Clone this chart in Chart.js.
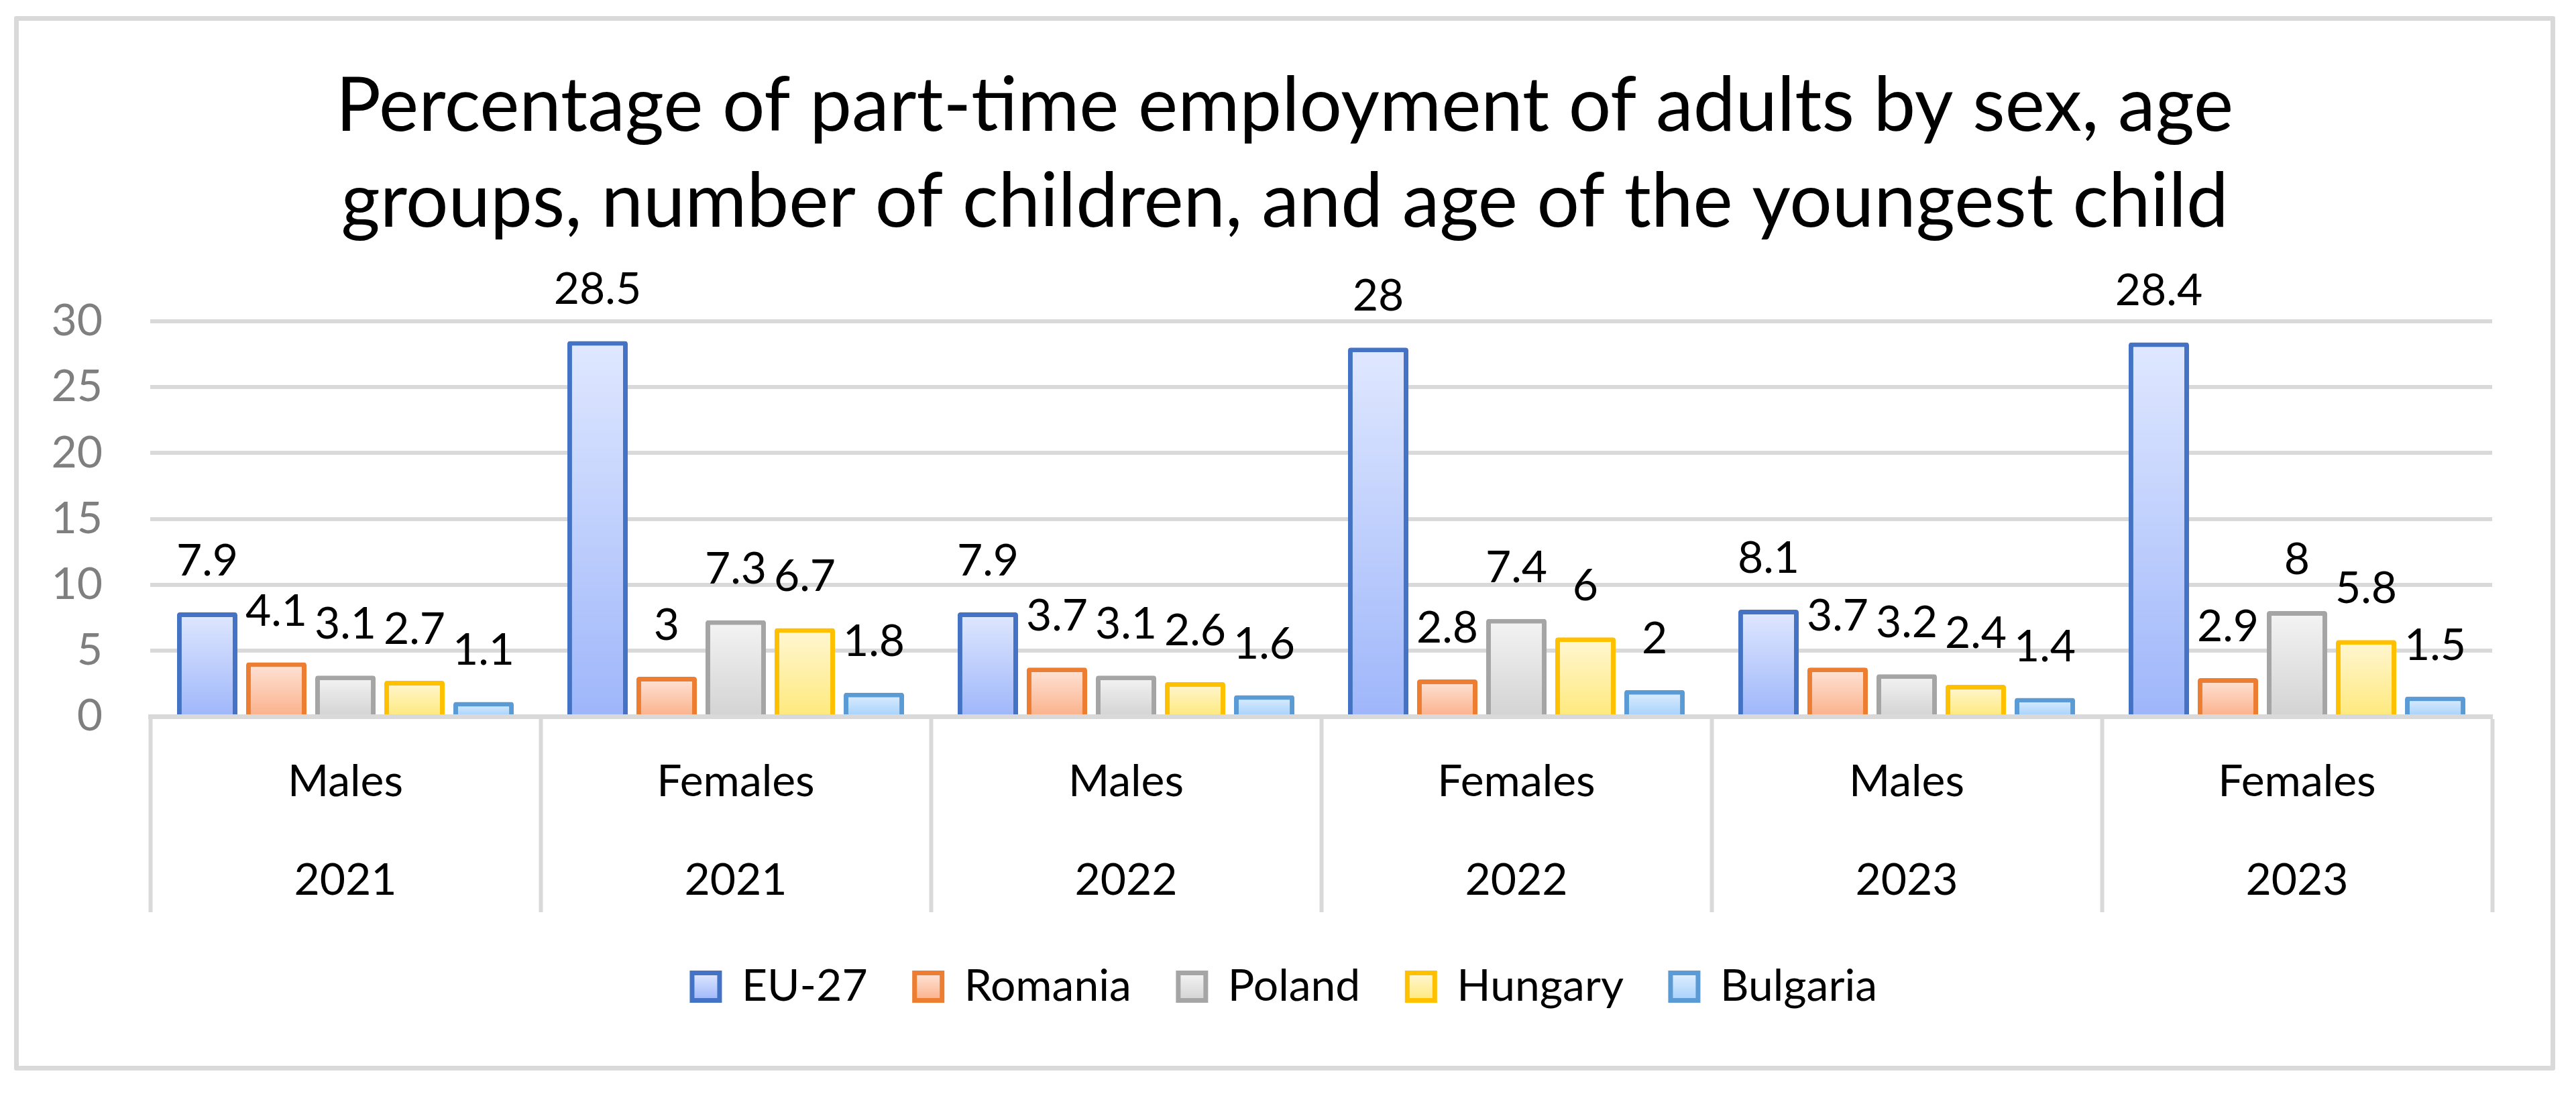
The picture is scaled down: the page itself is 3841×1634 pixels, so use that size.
<!DOCTYPE html>
<html>
<head>
<meta charset="utf-8">
<script src="https://cdn.jsdelivr.net/npm/chart.js@4.4.1/dist/chart.umd.min.js"></script>
<style>
  html, body { margin: 0; padding: 0; background: #fff; }
  #wrap {
    position: absolute; left: 21px; top: 24px;
    width: 3789px; height: 1572px;
    box-sizing: border-box;
    border: 7px solid #d9d9d9; border-radius: 3px;
    background: #fff;
  }
  #chart { display: block; }
</style>
</head>
<body>
<div id="wrap"><canvas id="chart"></canvas></div>
<script>
// ---- data ----
const sexes = ['Males', 'Females', 'Males', 'Females', 'Males', 'Females'];
const years = ['2021', '2021', '2022', '2022', '2023', '2023'];

const seriesNames = ['EU-27', 'Romania', 'Poland', 'Hungary', 'Bulgaria'];
const eu27     = [7.9, 28.5, 7.9, 28, 8.1, 28.4];
const romania  = [4.1, 3, 3.7, 2.8, 3.7, 2.9];
const poland   = [3.1, 7.3, 3.1, 7.4, 3.2, 8];
const hungary  = [2.7, 6.7, 2.6, 6, 2.4, 5.8];
const bulgaria = [1.1, 1.8, 1.6, 2, 1.4, 1.5];

const yTicks = [0, 5, 10, 15, 20, 25, 30];

// ---- look ----
const FONT = 'Lato, "Open Sans", sans-serif';
const borders = ['#4472c4', '#ed7d31', '#a5a5a5', '#ffc000', '#5b9bd5'];
const lights  = ['#e0e8ff', '#fee4d8', '#f4f4f4', '#fff7d4', '#e0effe'];
const darks   = ['#9eb6fa', '#fbb18b', '#d3d3d3', '#ffe97c', '#a6d1fc'];

const LEGEND_PAD = 70;
const LEGEND_BOX = 41;
const TEXT_SIZE = 66;

// Per-bar vertical gradient, light at top, darker at the base
const barFill = (i) => (ctx) => {
    const chart = ctx.chart;
    if (!chart.chartArea || ctx.type !== 'data' || !ctx.parsed) return darks[i];
    const y = chart.scales.y;
    const top = y.getPixelForValue(ctx.parsed.y);
    const base = y.getPixelForValue(0);
    if (!isFinite(top) || !isFinite(base) || base - top < 1) return darks[i];
    const g = chart.ctx.createLinearGradient(0, top, 0, base);
    g.addColorStop(0, lights[i]);
    g.addColorStop(1, darks[i]);
    return g;
};

const seriesValues = [eu27, romania, poland, hungary, bulgaria];
const datasets = seriesNames.map((name, i) => ({
    label: name,
    data: seriesValues[i],
    backgroundColor: barFill(i),
    borderColor: borders[i],
    borderWidth: 7,
    borderRadius: 4,
    borderSkipped: 'bottom',
    categoryPercentage: 0.885,
    barPercentage: 0.874,
}));

// Value labels sitting above each bar
const valueLabels = {
    id: 'valueLabels',
    afterDatasetsDraw(chart) {
        const c = chart.ctx;
        c.save();
        c.font = `${TEXT_SIZE}px ${FONT}`;
        c.fillStyle = '#000';
        c.textAlign = 'center';
        c.textBaseline = 'alphabetic';
        chart.data.datasets.forEach((ds, di) => {
            chart.getDatasetMeta(di).data.forEach((bar, j) => {
                c.fillText(String(ds.data[j]), bar.x, bar.y - 55);
            });
        });
        c.restore();
    },
};

const legendLabels = (chart) => {
    const items = Chart.defaults.plugins.legend.labels.generateLabels(chart);
    const lg = chart.legend;
    items.forEach((it, i) => {
        it.strokeStyle = borders[i];
        it.lineWidth = 7;
        if (lg && isFinite(lg.top)) {
            const top = lg.top + LEGEND_PAD + (TEXT_SIZE - LEGEND_BOX) / 2;
            const g = chart.ctx.createLinearGradient(0, top, 0, top + LEGEND_BOX);
            g.addColorStop(0, lights[i]);
            g.addColorStop(1, darks[i]);
            it.fillStyle = g;
        } else {
            it.fillStyle = darks[i];
        }
    });
    return items;
};

new Chart(document.getElementById('chart'), {
    type: 'bar',
    data: {
        labels: sexes.map((s, i) => [s, years[i]]),
        datasets,
    },
    plugins: [valueLabels],
    options: {
        responsive: true,
        maintainAspectRatio: false,
        devicePixelRatio: 1,
        animation: false,
        layout: { padding: { top: 0, left: 0, right: 0, bottom: 75 } },
        plugins: {
            title: {
                display: true,
                text: [
                    'Percentage of part-time employment of adults by sex, age',
                    'groups, number of children, and age of the youngest child',
                ],
                color: '#000',
                font: { family: FONT, size: 112, weight: 'normal', lineHeight: 143 / 112 },
                padding: { top: 56, bottom: 106 },
            },
            legend: {
                position: 'bottom',
                labels: {
                    color: '#000',
                    font: { family: FONT, size: TEXT_SIZE },
                    boxWidth: LEGEND_BOX,
                    boxHeight: LEGEND_BOX,
                    padding: LEGEND_PAD,
                    generateLabels: legendLabels,
                },
            },
            tooltip: { enabled: false },
        },
        scales: {
            x: {
                grid: {
                    display: true,
                    offset: true,
                    drawOnChartArea: false,
                    drawTicks: true,
                    tickLength: 292,
                    tickColor: '#d9d9d9',
                    tickWidth: 6,
                },
                border: { display: true, color: '#d9d9d9', width: 7 },
                ticks: {
                    color: '#000',
                    font: { family: FONT, size: TEXT_SIZE, lineHeight: 147 / TEXT_SIZE },
                    padding: -267.5,
                    maxRotation: 0,
                    autoSkip: false,
                },
                afterFit: (s) => { s.height = 370 - LEGEND_PAD; },
            },
            y: {
                min: 0,
                max: 30,
                afterBuildTicks: (s) => { s.ticks = yTicks.map((v) => ({ value: v })); },
                grid: { color: '#d9d9d9', lineWidth: 6, drawTicks: false },
                border: { display: false },
                ticks: {
                    color: '#7f7f7f',
                    font: { family: FONT, size: TEXT_SIZE },
                    padding: 71,
                },
                afterFit: (s) => { s.width = 196; },
            },
            // empty right-hand gutter so title and legend centre on the whole canvas
            gutter: {
                type: 'linear',
                position: 'right',
                display: true,
                grid: { display: false, drawTicks: false },
                border: { display: false },
                ticks: { display: false },
                afterFit: (s) => { s.width = 87; },
            },
        },
    },
});
</script>
</body>
</html>
